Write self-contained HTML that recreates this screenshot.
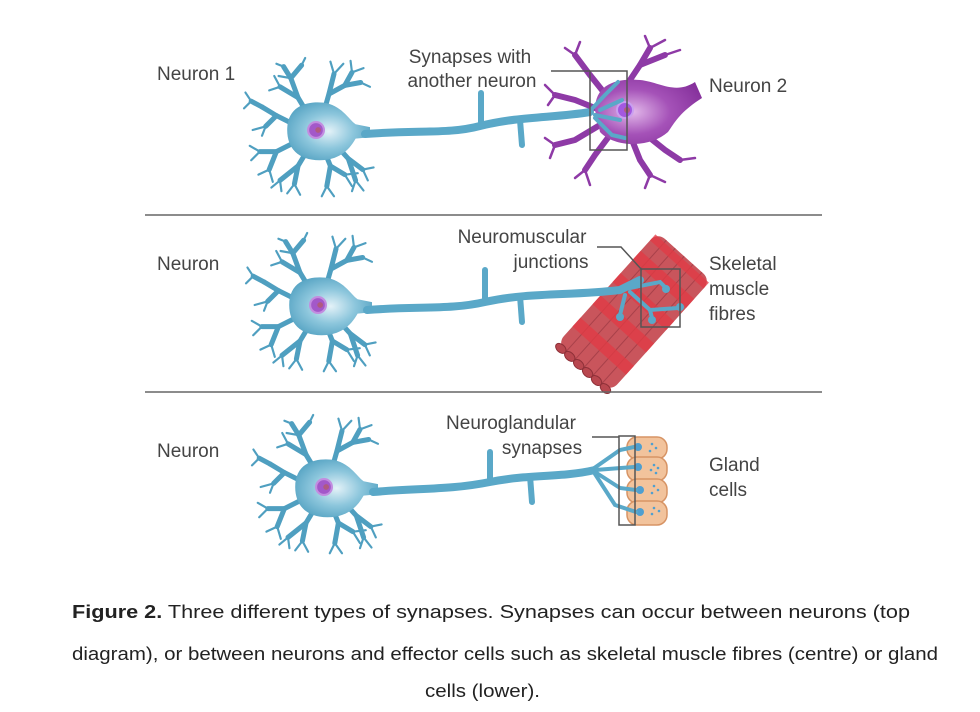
<!DOCTYPE html>
<html><head><meta charset="utf-8"><style>
html,body{margin:0;padding:0;background:#fff;}
svg{display:block;}
text{font-family:"Liberation Sans",sans-serif;}
</style></head><body>
<svg width="980" height="712" viewBox="0 0 980 712" xmlns="http://www.w3.org/2000/svg">
<defs>
<radialGradient id="bg" cx="0.5" cy="0.5" r="0.6"><stop offset="0" stop-color="#e4f2f8"/><stop offset="0.5" stop-color="#8cc6dc"/><stop offset="1" stop-color="#4f9fc0"/></radialGradient>
<radialGradient id="pg" cx="0.35" cy="0.5" r="0.7"><stop offset="0" stop-color="#e2b8ea"/><stop offset="0.5" stop-color="#a552b8"/><stop offset="1" stop-color="#86319c"/></radialGradient>
<g id="neu" stroke="#4f9fc0" stroke-linecap="round" fill="none">
 <g stroke-width="7">
  <path d="M-10,-20 L-25,-45 L-35,-72"/><path d="M-25,-45 L-50,-60"/><path d="M-35,-72 L-45,-88"/><path d="M-35,-72 L-20,-90"/>
  <path d="M10,-22 L18,-50 L25,-78"/><path d="M18,-50 L40,-62 L50,-80"/><path d="M40,-62 L62,-66"/>
  <path d="M-25,-5 L-55,-20 L-75,-32"/><path d="M-55,-20 L-70,-5"/><path d="M-75,-32 L-90,-40"/>
  <path d="M-25,15 L-55,30 L-78,30"/><path d="M-55,30 L-65,55"/>
  <path d="M-10,25 L-25,50 L-30,75"/><path d="M-25,50 L-50,70"/>
  <path d="M10,25 L20,50 L15,78"/><path d="M20,50 L40,62"/>
  <path d="M25,18 L45,40 L65,55"/><path d="M45,40 L55,70"/>
 </g>
 <g stroke-width="3">
  <path d="M-35,-72 L-52,-75"/><path d="M-45,-88 L-55,-92"/><path d="M-20,-90 L-15,-100"/><path d="M-50,-60 L-65,-55"/><path d="M-50,-60 L-58,-75"/>
  <path d="M25,-78 L20,-95"/><path d="M25,-78 L38,-92"/><path d="M50,-80 L48,-96"/><path d="M50,-80 L66,-86"/><path d="M62,-66 L75,-60"/>
  <path d="M-90,-40 L-98,-52"/><path d="M-90,-40 L-100,-30"/><path d="M-70,-5 L-88,0"/><path d="M-70,-5 L-75,8"/>
  <path d="M-78,30 L-92,22"/><path d="M-78,30 L-90,42"/><path d="M-65,55 L-80,62"/><path d="M-65,55 L-60,72"/>
  <path d="M-30,75 L-40,88"/><path d="M-30,75 L-22,90"/><path d="M-50,70 L-62,80"/><path d="M-50,70 L-48,85"/>
  <path d="M15,78 L8,92"/><path d="M15,78 L25,92"/><path d="M40,62 L50,78"/><path d="M40,62 L58,60"/>
  <path d="M65,55 L80,52"/><path d="M65,55 L72,70"/><path d="M55,70 L50,85"/><path d="M55,70 L66,84"/>
 </g>
 <path d="M-40,0 C-40,-35 -10,-40 10,-38 C35,-35 45,-15 55,-8 L75,-4 L75,10 L55,12 C45,30 30,42 5,42 C-25,42 -40,25 -40,0Z" fill="url(#bg)" stroke="none"/>
 <circle cx="0" cy="0" r="11" fill="#a358c9" stroke="#c28de0" stroke-width="3"/>
 <circle cx="3" cy="0" r="4" fill="#b05a80" stroke="none"/>
</g>
</defs>

<!-- Row 1 -->
<text x="157" y="80" font-size="19" fill="#444">Neuron 1</text>
<use href="#neu" transform="translate(316,130) scale(0.72)"/>
<g stroke="#5aa8c8" fill="none" stroke-linecap="round">
 <path d="M365,134 C420,130 450,134 480,126 C520,116 555,118 590,112" stroke-width="8"/>
 <path d="M481,126 L481,93" stroke-width="6"/><path d="M520,120 L522,145" stroke-width="6"/>
</g>
<!-- neuron 2 -->
<g stroke="#8e3aa6" stroke-linecap="round" fill="none">
 <g stroke-width="6">
  <path d="M610,100 L590,75 L575,55"/><path d="M620,95 L640,65 L650,48"/><path d="M640,65 L665,55"/>
  <path d="M600,110 L575,100 L555,95"/><path d="M600,125 L575,140 L555,145"/><path d="M610,135 L595,155 L585,170"/>
  <path d="M630,135 L640,160 L650,175"/><path d="M640,130 L665,150 L680,160"/>
 </g>
 <g stroke-width="2.5">
  <path d="M575,55 L565,48"/><path d="M575,55 L580,42"/><path d="M650,48 L645,36"/><path d="M650,48 L665,40"/><path d="M665,55 L680,50"/>
  <path d="M555,95 L545,85"/><path d="M555,95 L548,105"/><path d="M555,145 L545,138"/><path d="M555,145 L550,158"/>
  <path d="M585,170 L575,178"/><path d="M585,170 L590,185"/><path d="M650,175 L645,188"/><path d="M650,175 L665,182"/><path d="M680,160 L695,158"/>
 </g>
 <path d="M595,110 C595,85 615,78 640,80 C660,82 675,95 695,82 L702,98 C680,112 675,122 668,132 C650,148 615,148 600,132 Z" fill="url(#pg)" stroke="none"/>
</g>
<circle cx="625" cy="110" r="8" fill="#a358e0" stroke="#c9a0f0" stroke-width="2"/>
<circle cx="627" cy="110" r="3" fill="#b05a80"/>
<g stroke="#5aa8c8" fill="none" stroke-width="4" stroke-linecap="round">
 <path d="M588,113 L605,95 L618,82"/><path d="M600,110 L622,100"/><path d="M595,115 L620,120"/><path d="M595,118 L612,135 L625,138"/>
</g>
<rect x="590" y="71" width="37" height="79" fill="none" stroke="#555" stroke-width="1.5"/>
<polyline points="551,71 590,71" fill="none" stroke="#555" stroke-width="1.5"/>
<text x="470" y="63" font-size="19" fill="#444" text-anchor="middle">Synapses with</text>
<text x="472" y="87" font-size="19" fill="#444" text-anchor="middle">another neuron</text>
<text x="709" y="92" font-size="19" fill="#444">Neuron 2</text>

<line x1="145" y1="215" x2="822" y2="215" stroke="#666" stroke-width="1.5"/>

<!-- Row 2 -->
<text x="157" y="270" font-size="19" fill="#444">Neuron</text>
<use href="#neu" transform="translate(318,305) scale(0.72)"/>
<g transform="translate(634,312) rotate(-48)">
 <rect x="-75" y="-36" width="150" height="72" rx="10" fill="#c9555c"/>
 <g stroke="#a8414a" stroke-width="1">
  <line x1="-75" y1="-24" x2="75" y2="-24"/><line x1="-75" y1="-12" x2="75" y2="-12"/><line x1="-75" y1="0" x2="75" y2="0"/><line x1="-75" y1="12" x2="75" y2="12"/><line x1="-75" y1="24" x2="75" y2="24"/>
 </g>
 <g fill="#e33a44" opacity="0.75">
  <rect x="-52" y="-36" width="12" height="72"/><rect x="-22" y="-36" width="12" height="72"/><rect x="8" y="-36" width="12" height="72"/><rect x="38" y="-36" width="12" height="72"/><rect x="64" y="-36" width="8" height="72"/>
 </g>
 <g fill="#b9474f" stroke="#8e3038" stroke-width="1">
  <ellipse cx="-76" cy="-30" rx="4" ry="6"/><ellipse cx="-76" cy="-18" rx="4" ry="6"/><ellipse cx="-76" cy="-6" rx="4" ry="6"/><ellipse cx="-76" cy="6" rx="4" ry="6"/><ellipse cx="-76" cy="18" rx="4" ry="6"/><ellipse cx="-76" cy="30" rx="4" ry="6"/>
 </g>
</g>
<g stroke="#5aa8c8" fill="none" stroke-linecap="round">
 <path d="M367,310 C420,306 450,310 485,302 C530,292 570,296 620,290 L640,280" stroke-width="8"/>
 <path d="M485,302 L485,270" stroke-width="6"/><path d="M520,296 L522,322" stroke-width="6"/>
 <g stroke-width="4">
  <path d="M620,290 L660,282 L666,288"/><path d="M630,292 L650,310 L678,308"/><path d="M650,310 L652,318"/><path d="M625,295 L620,315"/>
 </g>
</g>
<g fill="#5aa8c8"><circle cx="666" cy="289" r="4"/><circle cx="680" cy="307" r="4"/><circle cx="652" cy="320" r="4"/><circle cx="620" cy="317" r="4"/></g>
<rect x="641" y="269" width="39" height="58" fill="none" stroke="#555" stroke-width="1.5"/>
<polyline points="597,247 621,247 642,270" fill="none" stroke="#555" stroke-width="1.5"/>
<text x="522" y="243" font-size="19" fill="#444" text-anchor="middle">Neuromuscular</text>
<text x="551" y="268" font-size="19" fill="#444" text-anchor="middle">junctions</text>
<text x="709" y="270" font-size="19" fill="#444">Skeletal</text>
<text x="709" y="295" font-size="19" fill="#444">muscle</text>
<text x="709" y="320" font-size="19" fill="#444">fibres</text>

<line x1="145" y1="392" x2="822" y2="392" stroke="#666" stroke-width="1.5"/>

<!-- Row 3 -->
<text x="157" y="457" font-size="19" fill="#444">Neuron</text>
<use href="#neu" transform="translate(324,487) scale(0.72)"/>
<g fill="#f2c39c" stroke="#d79465" stroke-width="1.5">
 <rect x="627" y="437" width="40" height="22" rx="10"/><rect x="627" y="457" width="40" height="24" rx="10"/><rect x="627" y="479" width="40" height="24" rx="10"/><rect x="627" y="501" width="40" height="24" rx="10"/>
</g>
<g fill="#4f9fd0"><circle cx="638" cy="447" r="4"/><circle cx="638" cy="467" r="4"/><circle cx="640" cy="490" r="4"/><circle cx="640" cy="512" r="4"/>
 <circle cx="652" cy="444" r="1.3"/><circle cx="656" cy="448" r="1.3"/><circle cx="650" cy="451" r="1.3"/><circle cx="654" cy="465" r="1.3"/><circle cx="658" cy="468" r="1.3"/><circle cx="651" cy="470" r="1.3"/><circle cx="656" cy="473" r="1.3"/><circle cx="654" cy="486" r="1.3"/><circle cx="658" cy="490" r="1.3"/><circle cx="652" cy="493" r="1.3"/><circle cx="654" cy="508" r="1.3"/><circle cx="659" cy="511" r="1.3"/><circle cx="652" cy="514" r="1.3"/></g>
<g stroke="#5aa8c8" fill="none" stroke-linecap="round">
 <path d="M373,492 C420,488 450,490 490,482 C530,474 560,478 595,470" stroke-width="8"/>
 <path d="M490,482 L490,452" stroke-width="6"/><path d="M530,476 L532,502" stroke-width="6"/>
 <g stroke-width="4"><path d="M590,471 L620,450 L634,447"/><path d="M595,470 L634,467"/><path d="M595,472 L620,488 L636,490"/><path d="M595,474 L615,505 L636,512"/></g>
</g>
<rect x="619" y="436" width="16" height="89" fill="none" stroke="#555" stroke-width="1.5"/>
<polyline points="592,437 619,437" fill="none" stroke="#555" stroke-width="1.5"/>
<text x="511" y="429" font-size="19" fill="#444" text-anchor="middle">Neuroglandular</text>
<text x="542" y="454" font-size="19" fill="#444" text-anchor="middle">synapses</text>
<text x="709" y="471" font-size="19" fill="#444">Gland</text>
<text x="709" y="496" font-size="19" fill="#444">cells</text>

<!-- Caption -->
<text x="72" y="618" font-size="18" fill="#222" textLength="838" lengthAdjust="spacingAndGlyphs"><tspan font-weight="bold">Figure 2.</tspan> Three different types of synapses. Synapses can occur between neurons (top</text>
<text x="72" y="660" font-size="18" fill="#222" textLength="866" lengthAdjust="spacingAndGlyphs">diagram), or between neurons and effector cells such as skeletal muscle fibres (centre) or gland</text>
<text x="425" y="697" font-size="18" fill="#222" textLength="115" lengthAdjust="spacingAndGlyphs">cells (lower).</text>
</svg>
</body></html>
